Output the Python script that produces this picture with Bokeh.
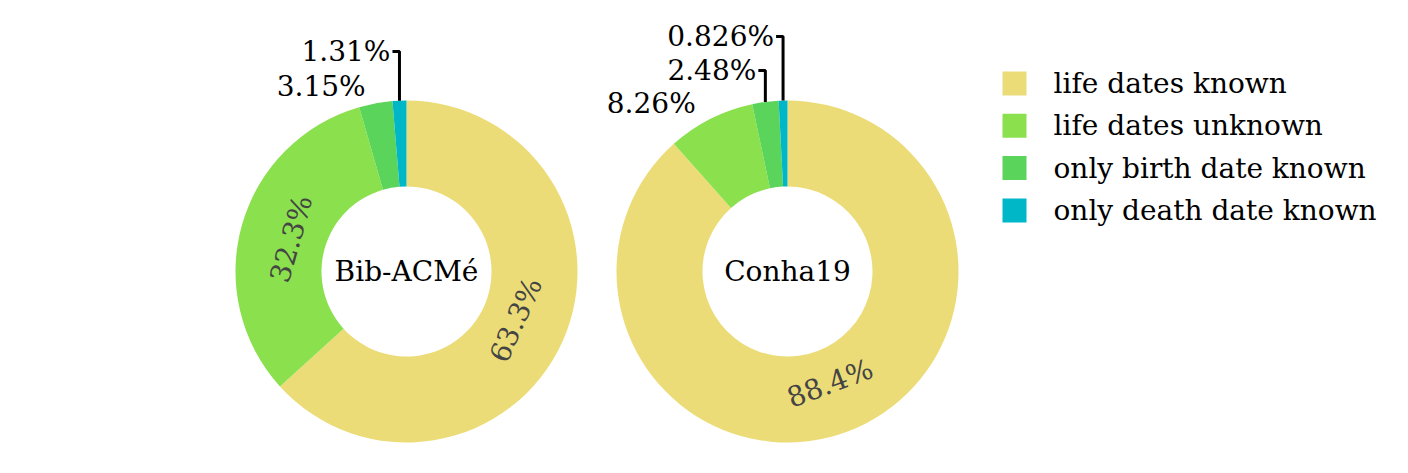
import math
from itertools import accumulate
from bokeh.plotting import figure
from bokeh.models import Range1d, ColumnDataSource
from bokeh.core.properties import value
from bokeh.embed import file_html
from bokeh.resources import INLINE

# ---- data ----
categories = ["life dates known", "life dates unknown", "only birth date known", "only death date known"]
colors = ["#ebdc78", "#8be04e", "#5ad45a", "#00b7c7"]
bib_values = [63.3, 32.3, 3.15, 1.31]
conha_values = [88.4, 8.26, 2.48, 0.826]
bib_labels = ["63.3%", "32.3%", "3.15%", "1.31%"]
conha_labels = ["88.4%", "8.26%", "2.48%", "0.826%"]
chart_titles = ["Bib-ACMé", "Conha19"]

# ---- layout ----
W, H = 1408, 473
R_OUT, R_IN = 171, 85
CENTERS = [(406, 271), (787, 271)]          # screen px
LIFTED = [{3: 51}, {3: 36, 2: 70}]           # screen y of lifted labels
FONT = value("DejaVu Serif")
FS = "28px"

p = figure(width=W, height=H, x_range=Range1d(0, W), y_range=Range1d(0, H),
           output_backend="svg", toolbar_location=None, min_border=0)
p.axis.visible = False
p.grid.visible = False
p.outline_line_color = None
p.background_fill_color = "white"
p.border_fill_color = "white"


def donut(center, vals, labels, title, lifted):
    cx, cy = center[0], H - center[1]
    total = sum(vals)
    fr = [v / total for v in vals]
    cum = [0.0] + list(accumulate(fr))
    start = [math.pi / 2 - 2 * math.pi * c for c in cum[:-1]]
    end = [math.pi / 2 - 2 * math.pi * c for c in cum[1:]]
    src = ColumnDataSource(dict(start=start, end=end, color=colors))
    p.annular_wedge(x=cx, y=cy, inner_radius=R_IN, outer_radius=R_OUT,
                    start_angle="start", end_angle="end", direction="clock",
                    fill_color="color", line_color=None, source=src)

    in_x, in_y, in_a, in_t = [], [], [], []
    out_x, out_y, out_t = [], [], []
    lx, ly = [], []
    for i, f in enumerate(fr):
        mid = (start[i] + end[i]) / 2
        if f >= 0.1:
            r = 0.7 * R_OUT
            a = mid + math.pi / 2
            while a > math.pi / 2:
                a -= math.pi
            while a <= -math.pi / 2:
                a += math.pi
            in_x.append(cx + r * math.cos(mid))
            in_y.append(cy + r * math.sin(mid))
            in_a.append(a)
            in_t.append(labels[i])
        else:
            if i in lifted:
                xo = cx + R_OUT * math.cos(mid)
                yo = cy + R_OUT * math.sin(mid)
                yl = H - lifted[i]
                lx.append([xo, xo, xo - 7])
                ly.append([yo, yl, yl])
                out_x.append(xo - 9)
                out_y.append(yl)
            else:
                out_x.append(cx + 1.1 * R_OUT * math.cos(mid) - 7)
                out_y.append(cy + 1.1 * R_OUT * math.sin(mid))
            out_t.append(labels[i])

    p.text(x=in_x, y=in_y, text=in_t, angle=in_a, text_font=FONT,
           text_font_size=FS, text_color="#444444", text_align="center",
           text_baseline="middle")
    if lx:
        p.multi_line(xs=lx, ys=ly, line_color="black", line_width=3)
    p.text(x=out_x, y=out_y, text=out_t, text_font=FONT, text_font_size=FS,
           text_color="black", text_align="right", text_baseline="middle")
    p.text(x=[cx], y=[cy], text=[title], text_font=FONT, text_font_size=FS,
           text_color="black", text_align="center", text_baseline="middle")


donut(CENTERS[0], bib_values, bib_labels, chart_titles[0], LIFTED[0])
donut(CENTERS[1], conha_values, conha_labels, chart_titles[1], LIFTED[1])

# ---- legend (manual) ----
LEG_X, LEG_Y0, LEG_DY, SQ = 1014, 83, 42.3, 24
leg_y = [H - (LEG_Y0 + i * LEG_DY) for i in range(len(categories))]
p.rect(x=[LEG_X] * len(categories), y=leg_y, width=SQ, height=SQ,
       fill_color=colors, line_color=None)
p.text(x=[1053] * len(categories), y=leg_y, text=categories, text_font=FONT,
       text_font_size=FS, text_color="black", text_align="left",
       text_baseline="middle")

open("out.html", "w").write(file_html(p, INLINE))
